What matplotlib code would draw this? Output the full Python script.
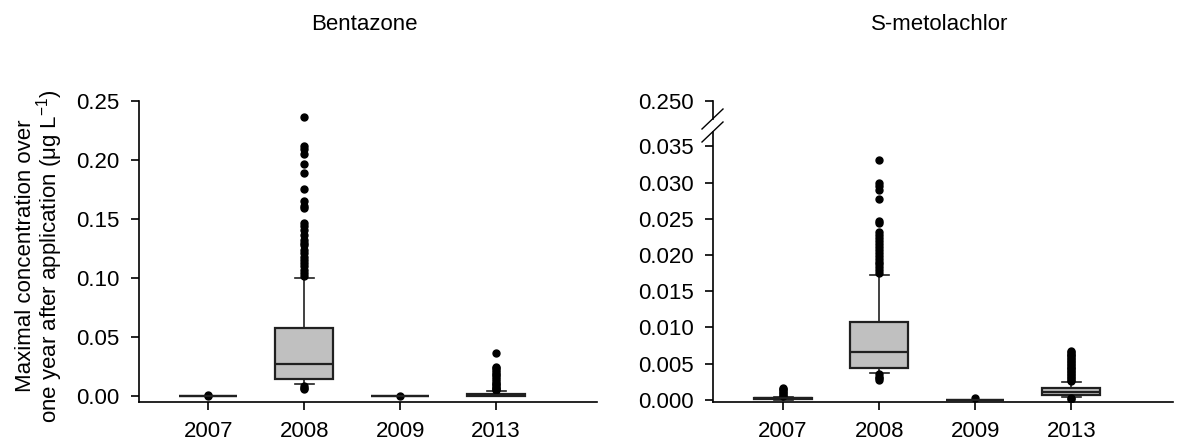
import matplotlib
matplotlib.use("Agg")
import matplotlib.pyplot as plt
from matplotlib.lines import Line2D

plt.rcParams['font.family'] = ['Liberation Sans', 'DejaVu Sans']
plt.rcParams['mathtext.default'] = 'regular'

years = ["2007", "2008", "2009", "2013"]

# ---- Bentazone (µg/L) ----
bz_q1 = [0.0, 0.0142, 0.0, 0.0003]
bz_med = [0.0, 0.0272, 0.0, 0.0010]
bz_q3 = [0.0, 0.0576, 0.0, 0.0022]
bz_whislo = [0.0, 0.0100, 0.0, 0.0]
bz_whishi = [0.0, 0.1000, 0.0, 0.0043]
bz_fliers = [
    [0.0008, 0.0004],
    [0.2364, 0.2118, 0.2095, 0.2047, 0.1970, 0.1890, 0.1755, 0.1650, 0.1610,
     0.1590, 0.1467, 0.1438, 0.1410, 0.1368, 0.1325, 0.1300, 0.1280, 0.1240,
     0.1210, 0.1180, 0.1155, 0.1127, 0.1100, 0.1070, 0.1040, 0.1014,
     0.0085, 0.0070, 0.0060],
    [0.0004],
    [0.0362, 0.0250, 0.0235, 0.0220, 0.0205, 0.0190, 0.0175, 0.0160, 0.0145,
     0.0130, 0.0115, 0.0100, 0.0090, 0.0080, 0.0070, 0.0060, 0.0050],
]

# ---- S-metolachlor (µg/L) ----
sm_q1 = [0.0001, 0.0044, 0.0, 0.0007]
sm_med = [0.0002, 0.0066, 0.0, 0.00115]
sm_q3 = [0.0003, 0.0108, 0.0, 0.0016]
sm_whislo = [0.0, 0.0037, 0.0, 0.0004]
sm_whishi = [0.0004, 0.0172, 0.0, 0.0025]
sm_fliers = [
    [0.0017, 0.0015, 0.0013, 0.0011, 0.0009, 0.0007, 0.0005],
    [0.0331, 0.0299, 0.0295, 0.0290, 0.0277, 0.0247, 0.0244, 0.0232, 0.0228,
     0.0223, 0.0219, 0.0215, 0.0211, 0.0207, 0.0203, 0.0199, 0.0195, 0.0191,
     0.0187, 0.0183, 0.0179, 0.0175, 0.0035, 0.0032, 0.0030, 0.0028],
    [0.0003],
    [0.0068, 0.0066, 0.0064, 0.0062, 0.0060, 0.0058, 0.0056, 0.0054, 0.0052,
     0.0050, 0.0048, 0.0046, 0.0044, 0.0042, 0.0040, 0.0038, 0.0036, 0.0034,
     0.0032, 0.0030, 0.0028, 0.0026, 0.0002, 0.0001],
]

FS = 16
BOX_FILL = "#c0c0c0"


def stats(q1, med, q3, lo, hi, fl):
    return [dict(q1=a, med=b, q3=c, whislo=d, whishi=e, fliers=f, label=y)
            for a, b, c, d, e, f, y in zip(q1, med, q3, lo, hi, fl, years)]


def draw(ax, st):
    ax.bxp(st, positions=[1, 2, 3, 4], widths=0.6, patch_artist=True,
           showfliers=True, capwidths=0.2,
           boxprops=dict(facecolor=BOX_FILL, edgecolor="#202020", linewidth=1.6),
           medianprops=dict(color="#202020", linewidth=1.6),
           whiskerprops=dict(color="#202020", linewidth=1.2),
           capprops=dict(color="#202020", linewidth=1.2),
           flierprops=dict(marker="o", markerfacecolor="black",
                           markeredgecolor="black", markersize=5))


def style(ax):
    for s in ["top", "right"]:
        ax.spines[s].set_visible(False)
    ax.spines["left"].set_linewidth(1.2)
    ax.spines["bottom"].set_linewidth(1.2)
    ax.tick_params(axis="both", direction="out", length=6, width=1.2,
                   labelsize=FS, pad=8)


fig = plt.figure(figsize=(12.04, 4.41), dpi=100)

# Left panel
axL = fig.add_axes([139/1204, 1-402/441, (597-139)/1204, (402-101)/441])
draw(axL, stats(bz_q1, bz_med, bz_q3, bz_whislo, bz_whishi, bz_fliers))
axL.set_ylim(-0.005, 0.25)
axL.set_xlim(0.28, 5.05)
axL.set_yticks([0.0, 0.05, 0.10, 0.15, 0.20, 0.25])
axL.set_yticklabels(["0.00", "0.05", "0.10", "0.15", "0.20", "0.25"])
axL.set_xticks([1, 2, 3, 4])
axL.set_xticklabels(years)
style(axL)

# Right panel (broken axis)
axR = fig.add_axes([713/1204, 1-402/441, (1173-713)/1204, (402-132)/441])
draw(axR, stats(sm_q1, sm_med, sm_q3, sm_whislo, sm_whishi, sm_fliers))
axR.set_ylim(-0.0003, 0.0370)
axR.set_xlim(0.27, 5.06)
yt = [0.0, 0.005, 0.010, 0.015, 0.020, 0.025, 0.030, 0.035]
axR.set_yticks(yt)
axR.set_yticklabels([f"{v:.3f}" for v in yt])
axR.set_xticks([1, 2, 3, 4])
axR.set_xticklabels(years)
style(axR)

axT = fig.add_axes([713/1204, 1-119/441, (1173-713)/1204, (119-101)/441],
                   sharex=axR)
axT.set_ylim(0.2475, 0.250)
axT.set_yticks([0.250])
axT.set_yticklabels(["0.250"])
axT.patch.set_visible(False)
style(axT)
axT.spines["bottom"].set_visible(False)
axT.tick_params(axis="x", bottom=False, labelbottom=False)

# break marks
for y0 in (129, 142):
    fig.add_artist(Line2D([702/1204, 723/1204], [1-y0/441, 1-(y0-20)/441],
                          color="black", linewidth=1.0))

# titles
fig.text(364/1204, 1-25/441, "Bentazone", ha="center", va="center", fontsize=FS)
fig.text(940/1204, 1-25/441, "S-metolachlor", ha="center", va="center", fontsize=FS)

# y label
fig.text(40/1204, 1-256/441,
         "Maximal concentration over\none year after application (μg L$^{-1}$)",
         rotation=90, ha="center", va="center", fontsize=FS,
         multialignment="center", linespacing=0.95)

fig.savefig("out.png", dpi=100)
